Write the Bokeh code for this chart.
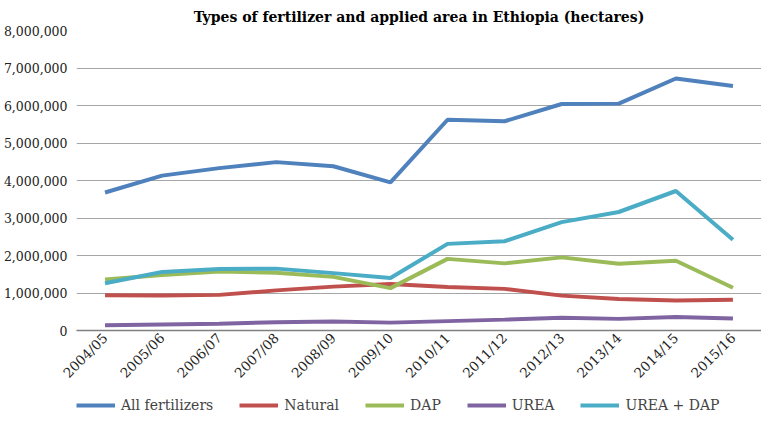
import math
from bokeh.plotting import figure
from bokeh.layouts import column
from bokeh.models import ColumnDataSource, NumeralTickFormatter, Legend, LegendItem, FactorRange, Range1d
from bokeh.embed import file_html
from bokeh.resources import INLINE

years = ["2004/05", "2005/06", "2006/07", "2007/08", "2008/09", "2009/10",
         "2010/11", "2011/12", "2012/13", "2013/14", "2014/15", "2015/16"]
all_fert = [3680000, 4130000, 4330000, 4490000, 4380000, 3950000,
            5620000, 5580000, 6040000, 6050000, 6720000, 6520000]
natural = [940000, 935000, 950000, 1070000, 1170000, 1240000,
           1160000, 1110000, 930000, 840000, 800000, 820000]
dap = [1360000, 1480000, 1570000, 1540000, 1430000, 1130000,
       1910000, 1790000, 1950000, 1780000, 1860000, 1140000]
urea = [140000, 160000, 180000, 220000, 240000, 210000,
        250000, 290000, 340000, 310000, 360000, 320000]
urea_dap = [1260000, 1560000, 1640000, 1650000, 1530000, 1400000,
            2310000, 2380000, 2890000, 3160000, 3720000, 2420000]

series = [("All fertilizers", all_fert, "#4F81BD"),
          ("Natural", natural, "#C0504D"),
          ("DAP", dap, "#9BBB59"),
          ("UREA", urea, "#8064A2"),
          ("UREA + DAP", urea_dap, "#4BACC6")]

FONT = "DejaVu Serif"

p = figure(width=761, height=396, x_range=FactorRange(*years, range_padding=0),
           y_range=Range1d(0, 8000000), output_backend="svg", toolbar_location=None,
           title="Types of fertilizer and applied area in Ethiopia (hectares)",
           min_border_left=71, min_border_right=0, min_border_top=0, min_border_bottom=66)
p.title.align = "center"
p.title.text_font = FONT
p.title.text_font_size = "14px"
p.title.text_font_style = "bold"
p.title.text_color = "black"
p.title.offset = 0
p.title.standoff = 12

p.outline_line_color = None
p.xgrid.grid_line_color = None
p.ygrid.grid_line_color = "#a6a6a6"
p.ygrid.grid_line_width = 1

p.yaxis.formatter = NumeralTickFormatter(format="0,0")
p.yaxis.ticker = list(range(0, 8000001, 1000000))
p.yaxis.axis_line_color = None
p.yaxis.major_tick_line_color = None
p.yaxis.minor_tick_line_color = None
p.yaxis.major_tick_out = 0
p.yaxis.major_tick_in = 0
p.yaxis.axis_label_standoff = 0
p.yaxis.major_label_text_font = FONT
p.yaxis.major_label_text_font_size = "12.5px"
p.yaxis.major_label_text_color = "#222222"
p.yaxis.major_label_standoff = 9

p.xaxis.axis_line_color = "#808080"
p.xaxis.axis_line_width = 1.5
p.xaxis.major_tick_line_color = None
p.xaxis.minor_tick_line_color = None
p.xaxis.major_tick_out = 0
p.xaxis.major_tick_in = 0
p.xaxis.axis_label_standoff = 0
p.xaxis.major_label_orientation = math.pi / 4
p.xaxis.major_label_text_font = FONT
p.xaxis.major_label_text_font_size = "13.5px"
p.xaxis.major_label_text_color = "#222222"
p.xaxis.major_label_standoff = 5

for name, vals, color in series:
    src = ColumnDataSource(dict(x=years, y=vals))
    p.line("x", "y", source=src, line_color=color, line_width=4)

# legend strip (series drawn off-range so only the legend shows)
lg = figure(width=761, height=17, x_range=FactorRange(*years, range_padding=0),
            y_range=Range1d(-2, -1), output_backend="svg", toolbar_location=None, min_border=0)
lg.axis.visible = False
lg.grid.grid_line_color = None
lg.outline_line_color = None
items = []
for name, vals, color in series:
    r = lg.line(x=years, y=vals, line_color=color, line_width=4)
    items.append(LegendItem(label=name, renderers=[r]))
legend = Legend(items=items, orientation="horizontal", location=(0, 0),
                label_text_font=FONT, label_text_font_size="14px",
                glyph_width=39, glyph_height=14, spacing=26, padding=0, margin=0,
                label_standoff=6, label_height=16,
                border_line_color=None, background_fill_alpha=0)
lg.add_layout(legend, "center")

open("out.html", "w").write(file_html(column(p, lg), INLINE))
